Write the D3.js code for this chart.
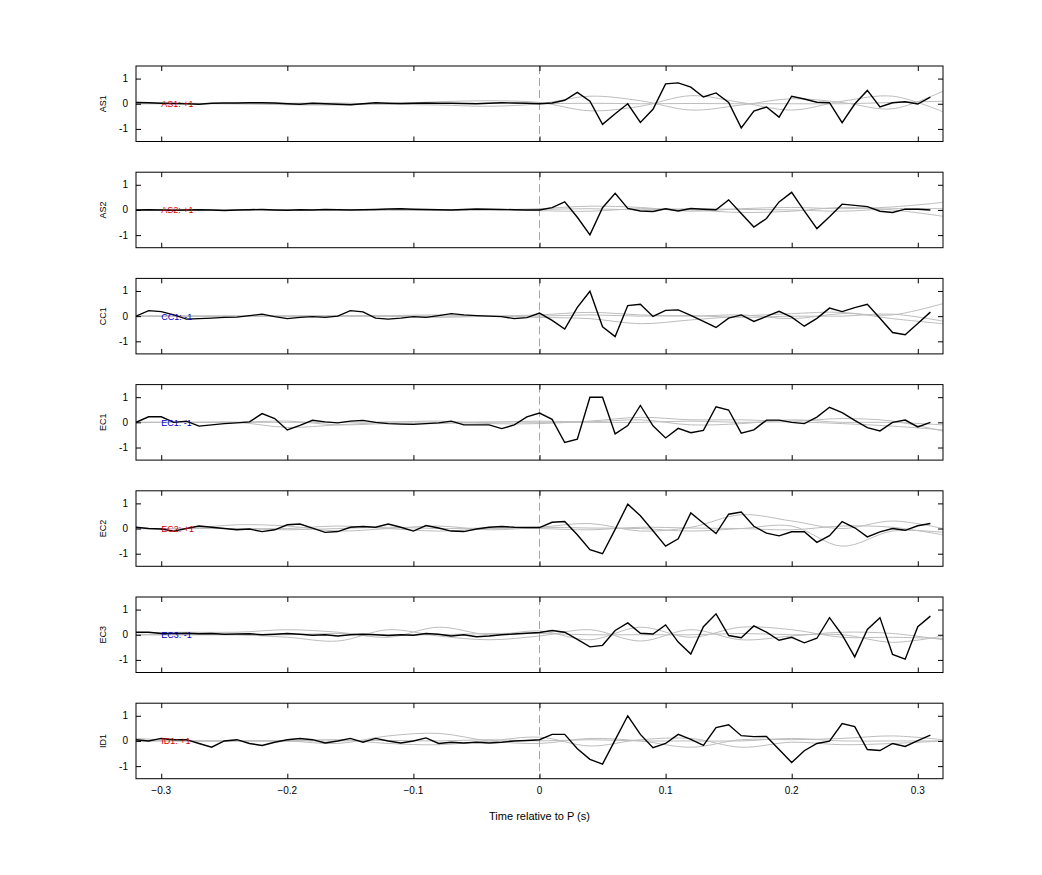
<!DOCTYPE html>
<html>
<head>
<meta charset="utf-8">
<script src="https://cdn.jsdelivr.net/npm/d3@7"></script>
<style>
body { margin: 0; background: #fff; }
text { font-family: "Liberation Sans", Arial, sans-serif; }
</style>
</head>
<body>
<svg id="chart" width="1042" height="875"></svg>
<script>
// station names, polarity labels
var stations = ['AS1', 'AS2', 'CC1', 'EC1', 'EC2', 'EC3', 'ID1'];
var polarity = ['+1', '+1', '-1', '-1', '+1', '-1', '+1'];
var xTicks = [-0.3, -0.2, -0.1, 0, 0.1, 0.2, 0.3];
var yTicks = [-1, 0, 1];

// black traces, sampled every 0.01 s from -0.32 to 0.31
var traceStart = -0.32, traceStep = 0.01;
var AS1 = [0.05,0.04,0.02,0.01,0,-0.02,0.02,0.03,0.03,0.04,0.04,0.03,0,-0.02,0.02,0,-0.02,-0.04,0,0.04,0.02,0.01,0.02,0.03,0.02,0.02,0.01,0,0.02,0.04,0.03,0.02,
  0,0.03,0.14,0.45,0.1,-0.82,-0.4,0,-0.74,-0.22,0.79,0.83,0.66,0.27,0.43,0.05,-0.96,-0.29,-0.13,-0.53,0.3,0.19,0.06,0.04,-0.75,-0.01,0.53,-0.13,0.04,0.08,-0.01,0.26];
var AS2 = [0,0.01,0,-0.01,0,0.01,0,-0.02,0,0.01,0.02,0,-0.01,0.01,0,0.02,0.01,0,0.01,0.02,0.04,0.05,0.03,0.02,0.01,0,0.02,0.04,0.03,0.02,0.01,0,
  0,0.09,0.32,-0.29,-0.99,0.09,0.66,0.06,-0.04,-0.06,0.05,-0.04,0.06,0.03,0.01,0.4,-0.14,-0.68,-0.34,0.32,0.7,-0.04,-0.74,-0.27,0.23,0.18,0.13,-0.05,-0.1,0.03,0.03,0];
var CC1 = [0,0.22,0.18,0.05,-0.12,-0.1,-0.08,-0.05,-0.04,0.02,0.08,-0.02,-0.1,-0.05,-0.02,-0.05,0,0.22,0.17,-0.08,-0.12,-0.08,-0.02,-0.05,0.02,0.1,0.05,0.02,0,-0.02,-0.1,-0.06,
  0.12,-0.17,-0.51,0.35,0.99,-0.42,-0.81,0.42,0.47,-0.01,0.23,0.25,0.03,-0.21,-0.45,-0.08,0.05,-0.21,-0.01,0.19,-0.04,-0.4,-0.09,0.32,0.18,0.34,0.47,-0.08,-0.65,-0.74,-0.29,0.16];
var EC1 = [0,0.22,0.22,0,0.05,-0.15,-0.1,-0.05,-0.02,0.02,0.35,0.15,-0.3,-0.12,0.08,0.02,-0.02,0.05,0.08,0,-0.05,-0.07,-0.08,-0.05,-0.02,0.05,-0.1,-0.1,-0.1,-0.25,-0.1,0.22,
  0.37,0.12,-0.8,-0.67,1.0,1.0,-0.46,-0.13,0.67,-0.14,-0.62,-0.24,-0.41,-0.32,0.62,0.49,-0.43,-0.3,0.09,0.09,0,-0.05,0.21,0.6,0.39,0.08,-0.21,-0.34,0,0.09,-0.18,0];
var EC2 = [0.05,0,-0.02,-0.1,0,0.1,0.05,0,-0.05,-0.02,-0.12,-0.05,0.15,0.18,0.02,-0.15,-0.12,0.05,0.08,0.05,0.18,0.05,-0.1,0.12,0.02,-0.1,-0.12,-0.02,0.05,0.08,0.05,0.04,
  0.04,0.25,0.28,-0.25,-0.84,-1.0,-0.03,0.97,0.51,-0.09,-0.7,-0.41,0.62,0.21,-0.2,0.57,0.66,0.09,-0.18,-0.29,-0.13,-0.13,-0.55,-0.28,0.28,0.03,-0.33,-0.13,0,-0.07,0.11,0.2];
var EC3 = [0.1,0.1,0.05,0.05,0.06,0.04,0.05,0.02,0.03,0.04,0,0.02,0.05,0.02,-0.02,0,-0.05,0,0.02,0,-0.03,0,-0.02,0.05,0.02,-0.05,0,-0.08,-0.05,0,0.03,0.06,
  0.09,0.17,0.1,-0.18,-0.48,-0.42,0.17,0.47,0.06,0.03,0.39,-0.29,-0.77,0.32,0.83,-0.03,-0.12,0.35,0.1,-0.22,-0.1,-0.32,-0.14,0.68,-0.01,-0.88,0.21,0.68,-0.78,-0.97,0.32,0.74];
var ID1 = [0.05,0,0.1,0.05,0.05,-0.1,-0.25,0,0.05,-0.1,-0.18,-0.05,0.05,0.1,0.05,-0.08,0,0.1,-0.05,0.1,0,-0.08,0,0.12,-0.1,-0.05,-0.08,-0.05,-0.08,-0.05,0,0.02,
  0.05,0.26,0.26,-0.31,-0.73,-0.92,0.04,1.0,0.26,-0.27,-0.1,0.26,0.06,-0.18,0.53,0.64,0.21,0.17,0.18,-0.34,-0.86,-0.39,-0.1,-0.01,0.69,0.57,-0.34,-0.38,-0.1,-0.22,0.01,0.23];
var traces = [AS1, AS2, CC1, EC1, EC2, EC3, ID1];

// grey comparison traces, control points every 0.04 s from -0.32 to 0.32
var greyStart = -0.32, greyStep = 0.04;
var greyAS1 = [
  [0.02,0.02,0,-0.04,-0.05,0,0.08,0.12,0.05,-0.28,-0.1,0.32,0.05,-0.25,0.1,0.3,-0.32],
  [0,0.01,0,0.02,0.03,-0.02,-0.05,-0.1,0,0.3,0.12,-0.25,-0.05,0.2,0.05,-0.2,0.5],
  [0,0,0.01,0,-0.01,0,0,0.02,0,0.02,0,0.01,0,0,0,0.05,0.1]];
var greyAS2 = [
  [0,0,0,0.01,0,-0.01,-0.02,0,0.05,0.15,0.1,-0.05,0.05,0.1,0.05,0.12,0.3],
  [0,0,-0.01,0,0.02,0.01,0,0.02,-0.03,-0.05,0.05,0,-0.1,-0.05,0.1,0,-0.25],
  [0,0,0,0,0,0.01,0,0,0.02,0.05,0,0.05,0.02,0,-0.05,0.05,0.05]];
var greyCC1 = [
  [0,0,0,0,0.02,0,-0.05,0,0.05,0.15,0.05,0,0.05,-0.1,0.1,0.05,0.5],
  [0,0,0,0,0,0.02,0.05,0,-0.05,-0.1,-0.3,-0.15,0,0.1,0.15,-0.1,-0.3],
  [0,0,0,0.01,0,0,0,0,0,0.05,0,0.02,-0.05,0,0,0.08,-0.2]];
var greyEC1 = [
  [0,0,0,-0.2,-0.1,0,0.05,-0.05,-0.05,0.05,0.2,0.1,0.1,0.05,0.15,0.05,-0.35],
  [0,0,0,0.05,-0.1,-0.05,-0.05,0,0.05,0.02,0.1,-0.1,-0.05,0.1,0,0,-0.1],
  [0,0,0,0,0,0.02,0,0.02,0,0,0,0.05,0,0.02,-0.05,-0.15,-0.3]];
var greyEC2 = [
  [0,0,0.15,0.1,-0.1,0,0.1,-0.05,0.05,0.2,-0.1,0.05,0.55,0.3,0,0.3,0],
  [0,0,0,0,0.1,0,-0.1,0,0.05,0.02,0,-0.1,0,0.1,-0.7,-0.1,-0.15],
  [0,0,0,-0.05,0,0.05,0,0.02,0,-0.05,0.05,0.02,0,-0.05,0.1,0.05,-0.25]];
var greyEC3 = [
  [0.08,0.1,0.1,0.2,0.1,-0.1,0.3,0,0.15,-0.2,0.3,-0.1,0.3,0.2,-0.1,-0.1,-0.15],
  [0,0,0,-0.1,-0.25,0.2,-0.05,-0.2,-0.05,0.2,-0.25,0.2,-0.2,-0.05,0.1,0.05,-0.2],
  [0,0,0,0,0.05,0,0,0.05,0.05,0,0,0,0.05,0,0,-0.3,-0.05]];
var greyID1 = [
  [0.1,0,0,0,-0.1,0.2,0.3,0,-0.1,0.1,0,-0.25,0.05,0.05,0.1,0.2,0.05],
  [0,0,0,0,0.05,-0.1,-0.15,0,0.15,-0.2,0.05,0.1,-0.25,-0.05,-0.15,-0.1,0],
  [0,0,0,0,0,0.02,0,0.05,0,0.05,0,0,0,0.1,0,0,0]];
var greys = [greyAS1, greyAS2, greyCC1, greyEC1, greyEC2, greyEC3, greyID1];

var svg = d3.select('#chart');
var left = 136, right = 943, top0 = 66, panelH = 75.5, pitch = 106.2;

var x = d3.scaleLinear().domain([-0.32, 0.32]).range([left, right]);

stations.forEach(function(name, i) {
    var top = top0 + i * pitch;
    var y = d3.scaleLinear().domain([-1.5, 1.5]).range([top + panelH, top]);
    var g = svg.append('g');

    var clipId = 'clip' + i;
    svg.append('clipPath').attr('id', clipId).append('rect')
        .attr('x', left).attr('y', top).attr('width', right - left).attr('height', panelH);

    var plot = g.append('g').attr('clip-path', 'url(#' + clipId + ')');

    var greyLine = d3.line()
        .x(function(d, k) { return x(greyStart + k * greyStep); })
        .y(function(d) { return y(d); })
        .curve(d3.curveCatmullRom);
    greys[i].forEach(function(s) {
        plot.append('path').attr('d', greyLine(s))
            .attr('fill', 'none').attr('stroke', '#bdbdbd').attr('stroke-width', 1);
    });

    // zero-time marker
    plot.append('line')
        .attr('x1', x(0)).attr('x2', x(0)).attr('y1', top).attr('y2', top + panelH)
        .attr('stroke', '#e88').attr('stroke-width', 1).attr('stroke-dasharray', '8,4');

    var blackLine = d3.line()
        .x(function(d, k) { return x(traceStart + k * traceStep); })
        .y(function(d) { return y(d); });
    plot.append('path').attr('d', blackLine(traces[i]))
        .attr('fill', 'none').attr('stroke', '#000').attr('stroke-width', 1.4);

    // label inside panel
    g.append('text').attr('x', x(-0.3)).attr('y', y(0) + 3.5)
        .attr('font-size', 9)
        .attr('fill', polarity[i] === '+1' ? '#d00' : '#00c')
        .text(name + ': ' + polarity[i]);

    // axes with inward ticks
    g.append('g').attr('transform', 'translate(' + left + ',0)')
        .call(d3.axisRight(y).tickValues(yTicks).tickSize(5).tickFormat(''))
        .call(function(a) { a.select('.domain').remove(); });
    g.append('g').attr('transform', 'translate(' + right + ',0)')
        .call(d3.axisLeft(y).tickValues(yTicks).tickSize(5).tickFormat(''))
        .call(function(a) { a.select('.domain').remove(); });
    g.append('g').attr('transform', 'translate(0,' + top + ')')
        .call(d3.axisBottom(x).tickValues(xTicks).tickSize(5).tickFormat(''))
        .call(function(a) { a.select('.domain').remove(); });
    g.append('g').attr('transform', 'translate(0,' + (top + panelH) + ')')
        .call(d3.axisTop(x).tickValues(xTicks).tickSize(5).tickFormat(''))
        .call(function(a) { a.select('.domain').remove(); });

    g.append('rect').attr('x', left).attr('y', top)
        .attr('width', right - left).attr('height', panelH)
        .attr('fill', 'none').attr('stroke', '#000').attr('stroke-width', 1);

    yTicks.forEach(function(t) {
        g.append('text').attr('x', left - 8).attr('y', y(t) + 3.5)
            .attr('text-anchor', 'end').attr('font-size', 10).text(t);
    });

    g.append('text')
        .attr('transform', 'translate(106,' + (top + panelH / 2) + ') rotate(-90)')
        .attr('text-anchor', 'middle').attr('font-size', 9).text(name);

    if (i === stations.length - 1) {
        xTicks.forEach(function(t) {
            g.append('text').attr('x', x(t)).attr('y', top + panelH + 15)
                .attr('text-anchor', 'middle').attr('font-size', 10).text(t === 0 ? '0' : d3.format('.1f')(t));
        });
        g.append('text').attr('x', x(0)).attr('y', top + panelH + 41)
            .attr('text-anchor', 'middle').attr('font-size', 11).text('Time relative to P (s)');
    }
});
</script>
</body>
</html>
